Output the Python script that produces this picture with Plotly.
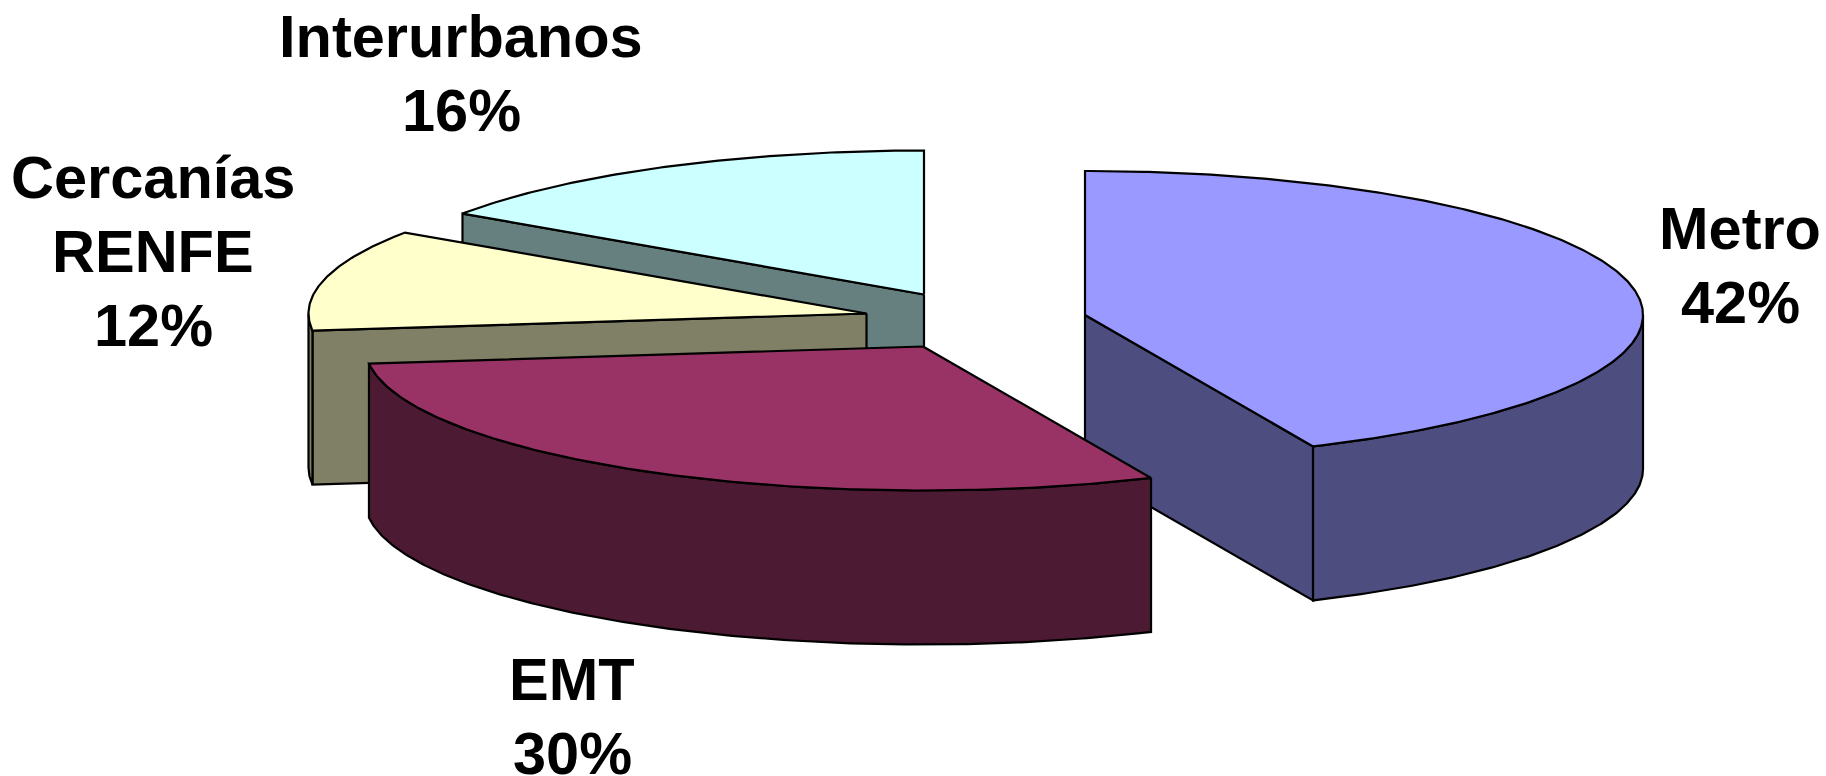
import numpy as np
import plotly.graph_objects as go

# Data
categories = ["Metro", "EMT", "Cercanías RENFE", "Interurbanos"]
label_lines = [["Metro", "42%"], ["EMT", "30%"], ["Cercanías", "RENFE", "12%"], ["Interurbanos", "16%"]]
drawn_shares = [43.3, 29.8, 11.4, 15.5]  # sweep of each slice as drawn in the 3-D view

# Colours
top_colors = ["#9999FF", "#993366", "#FFFFCC", "#CCFFFF"]
side_colors = ["#4D4D80", "#4D1A33", "#808066", "#668080"]

# Projection / layout of the exploded 3-D pie (page pixels)
W, H = 1826, 776
RX, RY, DEPTH = 558, 144, 154
apex_x = [1085, 923, 866.5, 924]
apex_y = [315, 346.5, 313.5, 294.5]
label_x = [1740, 572, 153, 461]
label_top = [193.5, 645, 142.5, 2]
LINE_PITCH = 74
draw_order = [3, 2, 0, 1]
FONT_SIZE = 59.5
LINE = dict(color="black", width=2.2)


def rim(cx, cy, a, b):
    t = np.radians(np.linspace(a, b, max(2, int(abs(b - a) * 2) + 1)))
    return cx + RX * np.sin(t), cy - RY * np.cos(t)


def poly(fig, x, y, color):
    fig.add_trace(go.Scatter(x=list(x) + [x[0]], y=list(y) + [y[0]], mode="lines", fill="toself",
                             fillcolor=color, line=LINE, hoverinfo="skip", showlegend=False))


edges = np.concatenate([[0], np.cumsum(drawn_shares)]) * 3.6
edges = edges / edges[-1] * 360

fig = go.Figure()
for i in draw_order:
    a, b = edges[i], edges[i + 1]
    cx, cy = apex_x[i], apex_y[i]
    # flat cut faces that look towards the viewer
    for ang, vis in ((a, 180 < a < 360), (b, 0 < b < 180)):
        if vis:
            px, py = rim(cx, cy, ang, ang)
            poly(fig, [cx, px[0], px[0], cx], [cy, py[0], py[0] + DEPTH, cy + DEPTH], side_colors[i])
    # curved outer wall (front half of the rim only)
    lo, hi = max(a, 90), min(b, 270)
    if lo < hi:
        rx, ry = rim(cx, cy, lo, hi)
        poly(fig, np.concatenate([rx, rx[::-1]]), np.concatenate([ry, ry[::-1] + DEPTH]), side_colors[i])
    # top face
    rx, ry = rim(cx, cy, a, b)
    poly(fig, np.concatenate([[cx], rx]), np.concatenate([[cy], ry]), top_colors[i])

for lines, x, y in zip(label_lines, label_x, label_top):
    for k, line in enumerate(lines):
        fig.add_annotation(x=x, y=y + k * LINE_PITCH, text=line, showarrow=False, xanchor="center", yanchor="top",
                           align="center", borderpad=0,
                           font=dict(family="Liberation Sans", size=FONT_SIZE, color="black", weight="bold"))

fig.update_layout(width=W, height=H, autosize=False, margin=dict(l=0, r=0, t=0, b=0),
                  paper_bgcolor="white", plot_bgcolor="white", showlegend=False,
                  xaxis=dict(range=[0, W], visible=False, fixedrange=True),
                  yaxis=dict(range=[H, 0], visible=False, fixedrange=True))
fig.write_html("out.html", config={"displayModeBar": False},
               post_script="document.body.style.margin='0';document.body.style.overflow='hidden';")
